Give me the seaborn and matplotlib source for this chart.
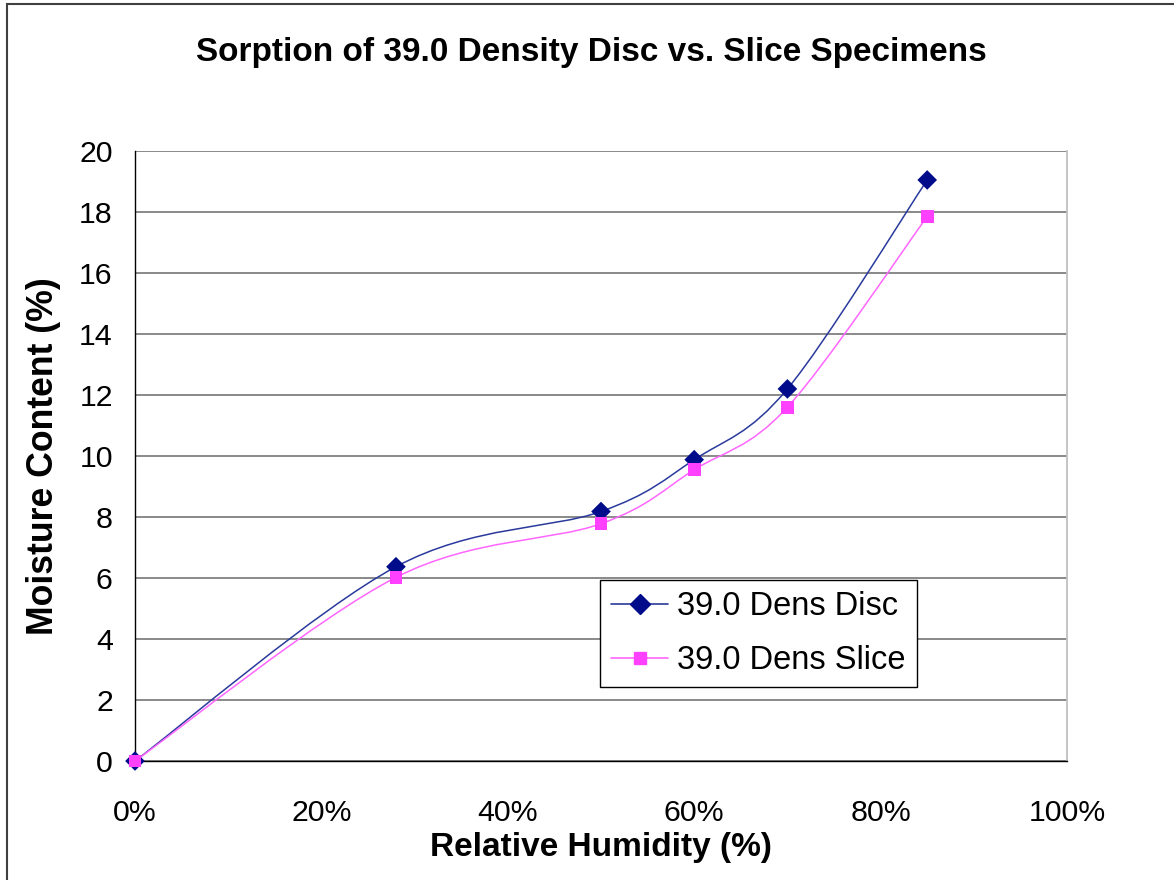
import numpy as np
import matplotlib
matplotlib.use("Agg")
import matplotlib.pyplot as plt
import seaborn as sns
import pandas as pd
from matplotlib.path import Path
from matplotlib.patches import PathPatch, Rectangle
from matplotlib.lines import Line2D
from matplotlib.ticker import FuncFormatter

# ---- data ----
rh = [0, 28, 50, 60, 70, 85]
disc = [0.0, 6.37, 8.18, 9.88, 12.2, 19.05]
slice_ = [0.0, 6.02, 7.78, 9.55, 11.6, 17.85]
series_names = ["39.0 Dens Disc", "39.0 Dens Slice"]
title = "Sorption of 39.0 Density Disc vs. Slice Specimens"
xlabel = "Relative Humidity (%)"
ylabel = "Moisture Content (%)"

sns.set_style("white")
plt.rcParams["font.family"] = ["Liberation Sans", "DejaVu Sans"]
plt.rcParams["text.color"] = "black"
plt.rcParams["axes.labelcolor"] = "black"

fig = plt.figure(figsize=(11.74, 8.8), dpi=100)
ax = fig.add_axes([135/1174, 1-761/880, (1067-135)/1174, (761-151)/880])

df = pd.DataFrame({"rh": rh * 2, "mc": disc + slice_,
                   "series": [series_names[0]] * len(rh) + [series_names[1]] * len(rh)})

line_colors = {series_names[0]: "#2a3a9c", series_names[1]: "#ff66ff"}
mark_colors = {series_names[0]: "#000c8a", series_names[1]: "#ff40ff"}
markers = {series_names[0]: "D", series_names[1]: "s"}


def smooth_path(xs, ys):
    P = np.column_stack([xs, ys]).astype(float)
    n = len(P)
    verts = [P[0]]
    codes = [Path.MOVETO]
    for i in range(n - 1):
        p0 = P[i - 1] if i > 0 else P[i]
        p1 = P[i]
        p2 = P[i + 1]
        p3 = P[i + 2] if i + 2 < n else P[i + 1]
        c1 = p1 + (p2 - p0) / 6.0
        c2 = p2 - (p3 - p1) / 6.0
        verts += [c1, c2, p2]
        codes += [Path.CURVE4] * 3
    return Path(verts, codes)


for name, ys in zip(series_names, [disc, slice_]):
    ax.add_patch(PathPatch(smooth_path(rh, ys), facecolor="none",
                           edgecolor=line_colors[name], lw=1.1, zorder=3))

for name in series_names:
    sub = df[df.series == name]
    sns.scatterplot(data=sub, x="rh", y="mc", marker=markers[name],
                    color=mark_colors[name], s=100 if name == series_names[0] else 85,
                    edgecolor="none", ax=ax, zorder=4, legend=False, clip_on=False)

ax.set_xlim(0, 100)
ax.set_ylim(0, 20)
ax.set_xticks(np.arange(0, 101, 20))
ax.set_yticks(np.arange(0, 21, 2))
ax.xaxis.set_major_formatter(FuncFormatter(lambda v, p: f"{int(v)}%"))
ax.yaxis.grid(True, color="#808080", lw=1.3)
ax.xaxis.grid(False)
ax.set_axisbelow(True)
ax.spines["top"].set_visible(False)
ax.spines["right"].set_color("#c0c0c0")
ax.spines["right"].set_linewidth(1.3)
ax.spines["left"].set_color("black")
ax.spines["bottom"].set_color("black")
ax.spines["left"].set_linewidth(1.0)
ax.spines["bottom"].set_linewidth(1.0)
ax.tick_params(axis="both", which="major", direction="out", length=7, width=1.2,
               color="#606060", labelsize=21.8, labelcolor="black")
ax.tick_params(axis="x", pad=20)
ax.tick_params(axis="y", pad=9)

ax.set_xlabel(xlabel, fontsize=24, fontweight="bold", labelpad=4)
ax.set_ylabel(ylabel, fontsize=25.7, fontweight="bold", labelpad=13)
fig.text(591/1174, 1-52/880, title, ha="center", va="center",
         fontsize=24, fontweight="bold", color="black")

handles = [Line2D([0], [0], color=line_colors[n], lw=1.2, marker=markers[n],
                  markersize=10 if n == series_names[0] else 9,
                  markerfacecolor=mark_colors[n], markeredgecolor=mark_colors[n])
           for n in series_names]
leg = ax.legend(handles, series_names, loc="upper left",
                bbox_to_anchor=((600-135)/932, (761-580)/610),
                fontsize=23.5, frameon=True, fancybox=False, framealpha=1,
                edgecolor="black", handlelength=1.75, borderpad=0.34,
                labelspacing=0.7, handletextpad=0.28, borderaxespad=0)
leg.get_frame().set_linewidth(1.0)

fig.patches.append(Rectangle((7/1174, -0.02), 1.1, 1 - 4/880 + 0.02,
                             transform=fig.transFigure, fill=False,
                             edgecolor="#404040", lw=1.5))

fig.savefig("out.png", dpi=100)
